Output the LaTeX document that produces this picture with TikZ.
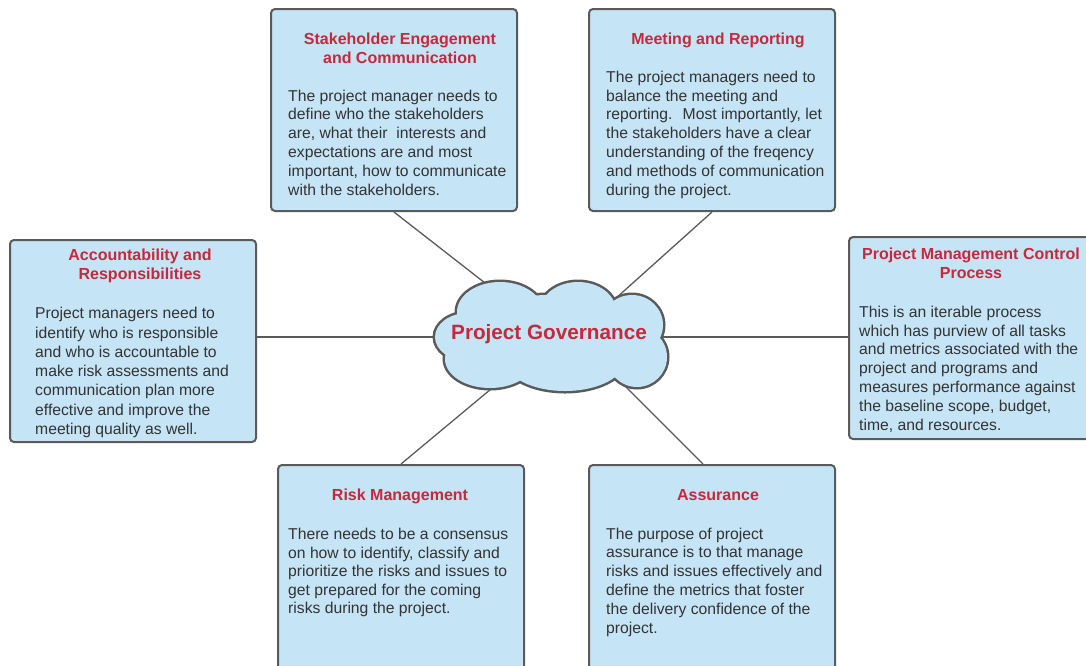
\documentclass[tikz,border=0pt]{standalone}
\usepackage{fontspec}
\setmainfont{Liberation Sans}
\definecolor{cardfill}{HTML}{C5E4F5}
\definecolor{cardline}{HTML}{5A5A5A}
\definecolor{headred}{HTML}{C8283C}
\definecolor{bodytext}{HTML}{333333}
\begin{document}
\begin{tikzpicture}[x=1pt,y=-1pt,
  card/.style={draw=cardline, fill=cardfill, line width=2pt, rounded corners=4pt,
    anchor=north west, inner sep=0pt, minimum width=246pt, minimum height=202pt},
  heading/.style={anchor=base, align=center, text=headred, inner sep=0pt,
    font=\fontsize{16}{19}\selectfont\bfseries},
  body/.style={anchor=base west, align=left, text=bodytext, inner sep=0pt,
    font=\fontsize{15.7}{18.9}\selectfont},
  link/.style={draw=cardline, line width=1.3pt}]
\useasboundingbox (0,0) rectangle (1086,665);

% topic cards
\node[card] (stake)  at (270,8)   {};
\node[card] (meet)   at (588,8)   {};
\node[card] (acct)   at (9,239)   {};
\node[card] (pmc)    at (848,236) {};
\node[card, minimum height=230pt] (risk)   at (277,464) {};
\node[card, minimum height=230pt] (assure) at (588,464) {};

% connector ends under the cloud
\coordinate (c-nw) at (494,290);
\coordinate (c-ne) at (615,299);
\coordinate (c-w)  at (440,337);
\coordinate (c-e)  at (660,337);
\coordinate (c-sw) at (497,384);
\coordinate (c-se) at (622,383);
\coordinate (m-top) at (703,464);

\draw[link] (stake.south) -- (c-nw);
\draw[link] (meet.south) -- (c-ne);
\draw[link] (acct.east |- c-w) -- (c-w);
\draw[link] (pmc.west |- c-e) -- (c-e);
\draw[link] (risk.north) -- (c-sw);
\draw[link] (m-top) -- (c-se);

% cloud: outline of a union of ellipses
\foreach \cx/\cy/\rx/\ry in {500/312/43/30, 578/311/38/29, 632/325/31/30,
    637/357/30/30, 565/360/60/31, 490/359/45/29, 468/337/33/24, 550/335/95/40}
  \draw[cardline, line width=5pt] (\cx,\cy) ellipse [x radius=\rx, y radius=\ry];
\foreach \cx/\cy/\rx/\ry in {500/312/43/30, 578/311/38/29, 632/325/31/30,
    637/357/30/30, 565/360/60/31, 490/359/45/29, 468/337/33/24, 550/335/95/40}
  \fill[cardfill] (\cx,\cy) ellipse [x radius=\rx, y radius=\ry];
\node[text=headred, font=\fontsize{20.7}{24}\selectfont\bfseries, inner sep=0pt]
  (gov) at (549,334) {Project Governance};

% headings (placed by the baseline of their last line)
\node[heading] (stake-h)  at (400,63.5)  {Stakeholder Engagement\\and Communication};
\node[heading] (meet-h)   at (718,44.5)  {Meeting and Reporting};
\node[heading] (acct-h)   at (140,279.5) {Accountability and\\Responsibilities};
\node[heading] (pmc-h)    at (971,278.5) {Project Management Control\\Process};
\node[heading] (risk-h)   at (400,500.5) {Risk Management};
\node[heading] (assure-h) at (718,500.5) {Assurance};

% descriptions (placed by the baseline of their last line)
\node[body] (stake-b) at (288,195.5) {The project manager needs to\\
define who the stakeholders\\
are, what their~ interests and\\
expectations are and most\\
important, how to communicate\\
with the stakeholders.};
\node[body] (meet-b) at (606,195.5) {The project managers need to\\
balance the meeting and\\
reporting.~ Most importantly, let\\
the stakeholders have a clear\\
understanding of the freqency\\
and methods of communication\\
during the project.};
\node[body, font=\fontsize{15.7}{19.3}\selectfont] (acct-b) at (35,434.5) {Project managers need to\\
identify who is responsible\\
and who is accountable to\\
make risk assessments and\\
communication plan more\\
effective and improve the\\
meeting quality as well.};
\node[body] (pmc-b) at (859,430.5) {This is an iterable process\\
which has purview of all tasks\\
and metrics associated with the\\
project and programs and\\
measures performance against\\
the baseline scope, budget,\\
time, and resources.};
\node[body, font=\fontsize{15.7}{18.5}\selectfont] (risk-b) at (288,613.5) {There needs to be a consensus\\
on how to identify, classify and\\
prioritize the risks and issues to\\
get prepared for the coming\\
risks during the project.};
\node[body] (assure-b) at (606,633.5) {The purpose of project\\
assurance is to that manage\\
risks and issues effectively and\\
define the metrics that foster\\
the delivery confidence of the\\
project.};
\end{tikzpicture}
\end{document}
